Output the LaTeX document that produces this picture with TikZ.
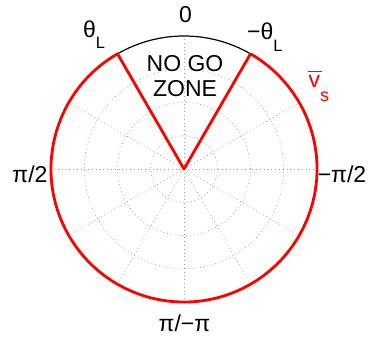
\documentclass[tikz,border=0pt]{standalone}
\usepackage{fontspec}
\setmainfont{Liberation Sans}
\newcommand{\subtxt}[2]{\raisebox{-#1}{\fontsize{16.5}{16.5}\selectfont #2}}
\begin{document}
\begin{tikzpicture}[x=1pt,y=1pt,
  grid/.style={draw=gray!75, dash pattern=on 0.8pt off 3pt, line width=0.8pt},
  lbl/.style={font=\fontsize{23}{25}\selectfont, inner sep=0pt},
  redline/.style={draw=red, line width=2.8pt, line join=round}]
\useasboundingbox (-184,-168) rectangle (187,169);
\coordinate (C) at (0,0);
% grid
\foreach \rr in {33.25,66.5,99.75} \draw[grid] (C) circle (\rr);
\foreach \a in {0,30,...,330} \draw[grid] (C) -- (\a:133);
% no go arc
\draw[black, line width=1.2pt] (60:133) arc (60:120:133);
% red boundary
\coordinate (PL) at (120:133);
\coordinate (PR) at (60:133);
\draw[redline] (PR) -- (C) -- (PL) arc (120:420:133);
% labels
\node[lbl] (zero) at (1.5,154) {0};
\node[lbl, anchor=base west] (thL) at (-101,131) {θ\subtxt{11pt}{L}};
\node[lbl, anchor=base west] (mth) at (63,129) {−θ\subtxt{11.5pt}{L}};
\node[lbl, text=red, anchor=base west] (vs) at (124.5,81)
  {\makebox[0pt][l]{\hspace{-1pt}\rule[15.7pt]{14pt}{1.3pt}}v\raisebox{-14pt}{\fontsize{18}{18}\selectfont s}};
\node[lbl] (pi2) at (-154,-5) {π/2};
\node[lbl] (mpi2) at (158,-5) {−π/2};
\node[lbl] (pipi) at (0.5,-154) {π/−π};
\node[lbl, align=center] (zone) at (1,93) {NO GO\\ZONE};
\end{tikzpicture}
\end{document}
